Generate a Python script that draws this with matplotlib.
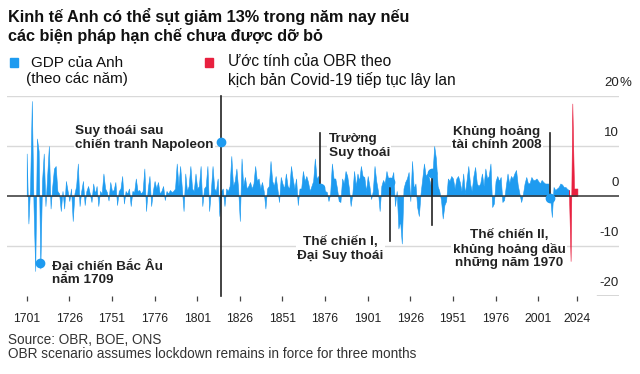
import matplotlib.pyplot as plt
import numpy as np
from matplotlib.patches import Rectangle
from matplotlib.transforms import blended_transform_factory

plt.rcParams['font.family'] = ['Liberation Sans', 'DejaVu Sans']

years = np.arange(1701, 2020)
gdp_growth = [
    8.5, -5.5, 2, 19, -2, -15, 11.5, 9, -14.5, 3,
    8.5, -2, 4, 10, -2.5, 2, 5.5, 6, 1, 0.5,
    -3, 1, -2.5, 3, 1, -1, 1.5, -5, 0.5, 2,
    6.5, -2, 1, 3, -1.8, 1, 2, 0.5, -1.2, 2.5,
    0.5, 2, -2, 1, 0.5, 4.5, 1.5, 0.8, -0.9, 2.8,
    1, 1.2, 2.8, -1.8, 1, 1.5, 4, -1.5, 1, 0.5,
    1.5, -2, 1, 0.8, 3.5, 1, 1.2, 0.5, 1, 5.5,
    -3, 1.5, 4, -2, 1, 3, 1.5, 2.8, 0.5, 1,
    2, -0.8, 1, 0.5, 1.2, 0.8, 1, 1.5, 6.5, 2,
    6, 1.5, -3, 4.5, 1, 2, 6, 1.5, 1, 4.5,
    1.5, 2, 6, -2, 1.5, 2, 6, -3, 1, 6,
    1.5, 1, 3.5, -4, 1, 1.5, -2, 1.5, 1, 2,
    8, 2, 3, 5.5, 1.5, -5, 7.5, 2, 3.8, 1.5,
    2, 2.8, 1.5, 2.5, 6, 3, 3.5, 1.5, 2.8, 1,
    -2.5, 1.5, 2, 7, 3, 2, 4, 1.5, -1.2, 3.8,
    2.5, 1.5, 4.5, 2, 1.5, 6, 3.5, 1.5, 3.5, -1.8,
    1.5, 1.5, 5, 3, 4, 2.8, 1, 2, 3, 7.5,
    3.5, 4, 1.5, 2, 2.2, 1, 0.8, -1, 0.5, 6.5,
    3.5, 3.5, 1.5, -1, -1.2, 3.5, 2.5, 5, 4, 1.5,
    -2, 0.5, 5, 2, 4.5, 3, 6, 4, 3.8, 1,
    4, 2, -0.6, 1, 6, 3, 1, -3, 2, 3.2,
    2.5, 5, 3.5, 2.5, 3.5, 4.8, -2, 1, -6.5, -5,
    -9.5, 1.5, 2.8, 3.5, 4.8, -1, 7, 1.5, 2.5, -2.2,
    -4, 0.5, 3.5, 6.5, 4, 4.5, 3.5, 2, 4.5, 10,
    7.5, 2, 1, -0.8, -4.5, -1.8, -1, 3.5, 3, 4,
    3.5, 1.5, 3.5, 4, 2.8, 1, 4.5, 0.5, 3.2, 6,
    2.5, 1, 4, 5.8, 2.5, 2, 2.5, 4.5, 2, 5.5,
    3.5, 4, 6.5, -2.2, -1.5, 3, 4, 3, 3.8, -1.2,
    -0.8, 2, 4.5, 2.5, 4, 3.5, 4.5, 5.2, 2.2, 0.5,
    -1.2, 0.3, 2.5, 3.8, 2.5, 2.6, 3.8, 3.2, 3.2, 3.5,
    3, 2.5, 3.2, 2.8, 2.5, 2.5, 2.5, -0.3, -4.2, 1.8,
    1.2, 1.5, 1.8, 2.5, 2.3, 1.8, 1.8, 1.4, 1.2,
]

# OBR covid scenario
obr_years = [2019, 2020, 2021, 2022, 2023, 2024]
obr_growth = [1.2, -13, 18.5, 1.5, 1.5, 1.5]

tick_years = [1701, 1726, 1751, 1776, 1801, 1826, 1851, 1876, 1901, 1926, 1951, 1976, 2001, 2024]

# event markers: year, line bottom, line top, dot value
events = [
    (1815, -20, 20, 10.7),
    (1873, 1.5, 12.5, 1.5),
    (1914, -8.9, 2.8, 2.8),
    (1939, -5.9, 4.5, 4.5),
    (2008, -0.4, 12.5, -0.4),
]
frost_dot = (1709, -13.4)

BLUE = '#1e9bf0'
RED = '#e8203f'
DARK = '#222222'

W, H = 640, 374
fig = plt.figure(figsize=(W / 100, H / 100), dpi=100)

# pixel -> data mapping of the plot area
px_per_year = 1.705
x0 = 26.7
left_px, right_px, top_px, bot_px = 7.3, 619, 96, 296
ax = fig.add_axes([left_px / W, (H - bot_px) / H, (right_px - left_px) / W, (bot_px - top_px) / H])
ax.set_xlim(1701 - (x0 - left_px) / px_per_year, 1701 + (right_px - x0) / px_per_year)
ax.set_ylim(-20, 20)
for s in ax.spines.values():
    s.set_visible(False)
ax.set_yticks([])

for v in [20, 10, -10]:
    ax.axhline(v, color='#d9d9d9', lw=1, zorder=0)
ax.axhline(-20, xmin=(597 - left_px) / (right_px - left_px), xmax=1, color='#333333', lw=1, zorder=0)

ax.fill_between(years, gdp_growth, 0, color=BLUE, lw=0.4, ec=BLUE, zorder=2)
ax.fill_between(obr_years, obr_growth, 0, color=RED, lw=0.4, ec=RED, zorder=2)
ax.axhline(0, color='#333333', lw=1.1, zorder=3)

for yr, lo, hi, dot in events:
    ax.plot([yr, yr], [lo, hi], color=DARK, lw=1.2, zorder=5, clip_on=False)
    ax.plot(yr, dot, 'o', color=BLUE, ms=6, zorder=6, clip_on=False)
ax.plot(*frost_dot, 'o', color=BLUE, ms=6, zorder=6, clip_on=False)

# right hand value labels
tr = blended_transform_factory(ax.transAxes, ax.transData)
for v in [10, 0, -10, -20]:
    ax.text(1.0, v + 2.6, str(v), transform=tr, ha='right', va='center', fontsize=9.5, color=DARK)
ax.text(1.0, 22.6, '20', transform=tr, ha='right', va='center', fontsize=9.5, color=DARK)
ax.text(1.0, 22.6, '%', transform=tr, ha='left', va='center', fontsize=9.5, color=DARK)

ax.set_xticks(tick_years)
ax.set_xticklabels([str(t) for t in tick_years])
ax.tick_params(axis='x', length=3.5, width=0.9, color='#444444', pad=9, labelsize=8.8, labelcolor=DARK)

box = dict(facecolor='white', edgecolor='none', pad=1)
ann = dict(fontsize=9.7, fontweight='bold', color=DARK, va='center', linespacing=1.15, zorder=7, bbox=box)
ax.text(1729.4, 11.6, 'Suy thoái sau\nchiến tranh Napoleon', ha='left', **ann)
ax.text(1715.8, -15.3, 'Đại chiến Bắc Âu\nnăm 1709', ha='left', **ann)
ax.text(1878.1, 10.0, 'Trường\nSuy thoái', ha='left', **ann)
ax.text(1884.8, -10.6, 'Thế chiến I,\nĐại Suy thoái', ha='center', multialignment='center', **ann)
ax.text(1976.8, 11.5, 'Khủng hoảng\ntài chính 2008', ha='center', multialignment='center', **ann)
ax.text(1983.9, -10.6, 'Thế chiến II,\nkhủng hoảng dầu\nnhững năm 1970', ha='center', multialignment='center', **ann)


def fy(py):
    return 1 - py / H


fig.text(8 / W, fy(26), 'Kinh tế Anh có thể sụt giảm 13% trong năm nay nếu\ncác biện pháp hạn chế chưa được dỡ bỏ',
         ha='left', va='center', fontsize=11.7, fontweight='bold', color='#111111', linespacing=1.25)

fig.add_artist(Rectangle((10 / W, fy(67)), 8 / W, 9 / H, transform=fig.transFigure, color=BLUE))
fig.add_artist(Rectangle((205 / W, fy(67)), 8 / W, 9 / H, transform=fig.transFigure, color=RED))
fig.text(77 / W, fy(71), 'GDP của Anh\n(theo các năm)', ha='center', va='center', multialignment='center',
         fontsize=11, color='#111111', linespacing=1.2)
fig.text(228 / W, fy(71), 'Ước tính của OBR theo\nkịch bản Covid-19 tiếp tục lây lan', ha='left', va='center',
         fontsize=11.2, color='#111111', linespacing=1.2)

fig.text(8 / W, fy(347), 'Source: OBR, BOE, ONS\nOBR scenario assumes lockdown remains in force for three months',
         ha='left', va='center', fontsize=9.8, color='#333333', linespacing=1.05)

fig.savefig('out.png', dpi=100)
